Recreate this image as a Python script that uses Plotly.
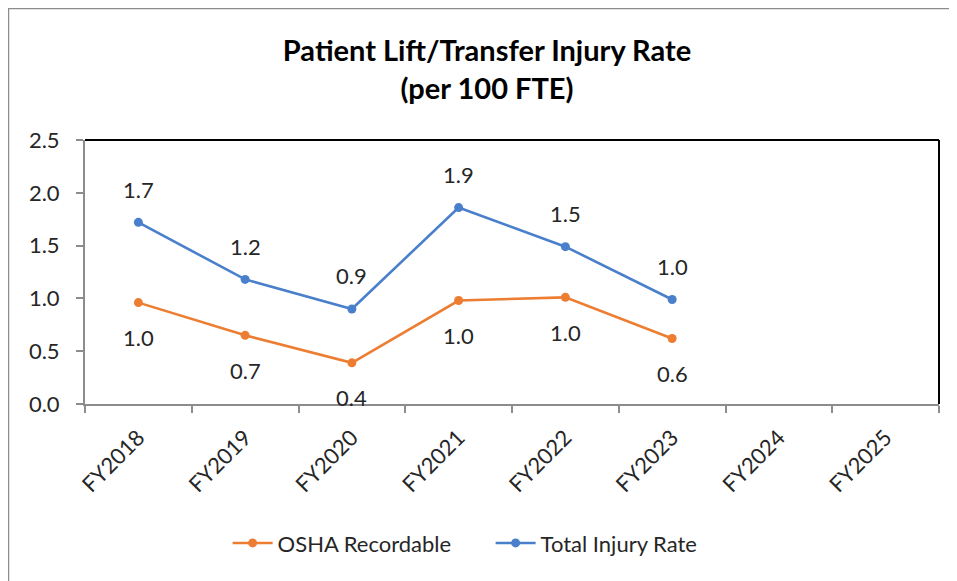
import plotly.graph_objects as go

categories = ["FY2018", "FY2019", "FY2020", "FY2021", "FY2022", "FY2023", "FY2024", "FY2025"]
osha_recordable = [0.96, 0.65, 0.39, 0.98, 1.01, 0.62, None, None]
total_injury_rate = [1.72, 1.18, 0.90, 1.86, 1.49, 0.99, None, None]
y_ticks = [0.0, 0.5, 1.0, 1.5, 2.0, 2.5]

ORANGE = "#ED7D31"
BLUE = "#4A7FCB"
FONT = "Lato, Open Sans, sans-serif"
TXT = "#262626"
FS = 22

fig = go.Figure()
fig.add_trace(go.Scatter(x=categories, y=osha_recordable, name="OSHA Recordable",
                         mode="lines+markers", line=dict(color=ORANGE, width=2.6),
                         marker=dict(size=9, color=ORANGE)))
fig.add_trace(go.Scatter(x=categories, y=total_injury_rate, name="Total Injury Rate",
                         mode="lines+markers", line=dict(color=BLUE, width=2.6),
                         marker=dict(size=9, color=BLUE)))

annotations = []
for c, v in zip(categories, total_injury_rate):
    if v is not None:
        annotations.append(dict(x=c, y=v, text=f"{v:.1f}", showarrow=False, yshift=33,
                                font=dict(family=FONT, size=FS, color=TXT)))
for c, v in zip(categories, osha_recordable):
    if v is not None:
        annotations.append(dict(x=c, y=v, text=f"{v:.1f}", showarrow=False, yshift=-35,
                                font=dict(family=FONT, size=FS, color=TXT)))

shapes = [
    dict(type="line", xref="paper", yref="paper", x0=0, x1=1, y0=1, y1=1,
         line=dict(color="black", width=2)),
    dict(type="line", xref="paper", yref="paper", x0=1, x1=1, y0=0, y1=1,
         line=dict(color="black", width=2)),
    dict(type="line", xref="paper", yref="paper", x0=-0.0902, x1=1.03, y0=1.5, y1=1.5,
         line=dict(color="#8C8C8C", width=2.5)),
    dict(type="line", xref="paper", yref="paper", x0=-0.0902, x1=-0.0902, y0=-0.7, y1=1.5,
         line=dict(color="#8C8C8C", width=2.5)),
]

fig.update_layout(
    width=949, height=573,
    margin=dict(l=77, r=18, t=132, b=177),
    paper_bgcolor="white", plot_bgcolor="white",
    font=dict(family=FONT, size=FS, color=TXT),
    title=dict(text="<b>Patient Lift/Transfer Injury Rate<br>(per 100 FTE)</b>",
               x=479/949, xanchor="center", y=1 - 53/573, yanchor="middle",
               font=dict(family=FONT, size=29, color="black")),
    showlegend=True,
    legend=dict(orientation="h", x=0.167, xanchor="left", y=-0.527, yanchor="middle",
                font=dict(family=FONT, size=FS, color=TXT), itemwidth=40,
                entrywidth=208, entrywidthmode="pixels", tracegroupgap=0),
    annotations=annotations,
    shapes=shapes,
)
fig.update_xaxes(type="category", categoryorder="array", categoryarray=categories,
                 range=[-0.5, 7.5], tickson="boundaries", ticks="outside", ticklen=7,
                 tickcolor="#8C8C8C", tickwidth=2, showline=True, linecolor="#8C8C8C",
                 linewidth=2, showgrid=False, tickangle=-45, ticklabelstandoff=10,
                 tickfont=dict(family=FONT, size=FS, color=TXT))
fig.update_yaxes(range=[0, 2.5], tickvals=y_ticks, tickformat=".1f", ticks="outside",
                 ticklen=7, tickcolor="#8C8C8C", tickwidth=2, showline=True,
                 linecolor="#8C8C8C", linewidth=2, showgrid=False, zeroline=False,
                 ticklabelstandoff=12,
                 tickfont=dict(family=FONT, size=FS, color=TXT))

fig.write_html("out.html")
